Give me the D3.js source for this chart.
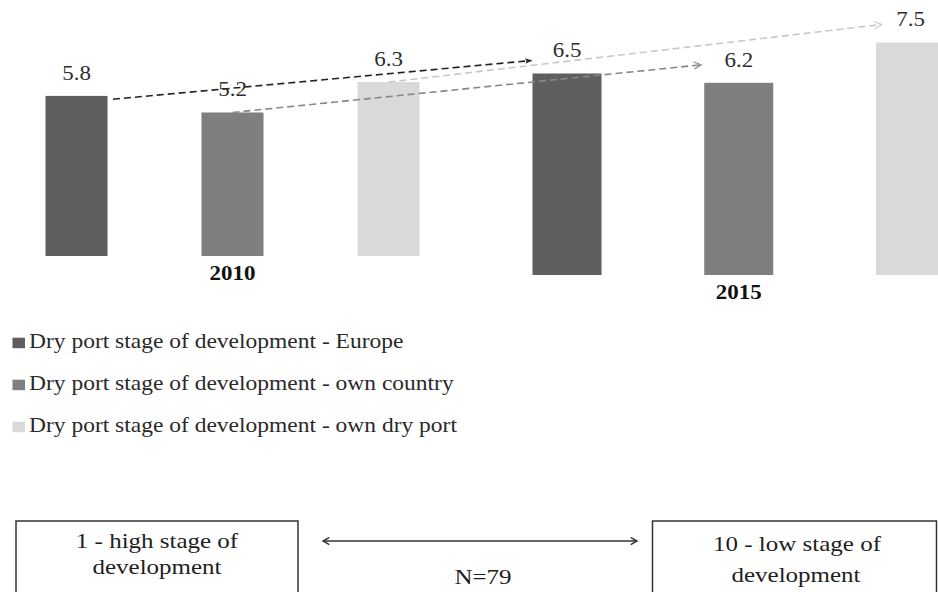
<!DOCTYPE html>
<html>
<head>
    <script src="https://d3js.org/d3.v7.min.js"></script>
    <style>
        body { margin: 0; background: #fff; }
        svg text { font-family: "Liberation Serif", "Times New Roman", serif; }
    </style>
</head>
<body>
    <div id="chart"></div>

    <script>
        // Data
        const years = ["2010", "2015"];
        const series = [
            "Dry port stage of development - Europe",
            "Dry port stage of development - own country",
            "Dry port stage of development - own dry port"
        ];
        const values2010 = [5.8, 5.2, 6.3];
        const values2015 = [6.5, 6.2, 7.5];
        const colors = ["#5f5f5f", "#7f7f7f", "#d9d9d9"];
        const trendColors = ["#222", "#888", "#c8c8c8"];
        const scaleText = ["1 - high stage of", "development"];
        const scaleTextRight = ["10 - low stage of", "development"];
        const sampleLabel = "N=79";

        const width = 938, height = 592;
        const squash = 0.88; // picture is a bit flattened vertically

        const svg = d3.select("#chart")
            .append("svg")
            .attr("width", width)
            .attr("height", height);

        const defs = svg.append("defs");
        // filled head for the Europe trend, open heads for the others
        defs.append("marker")
            .attr("id", "head0")
            .attr("viewBox", "0 0 10 10")
            .attr("refX", 9).attr("refY", 5)
            .attr("markerWidth", 7).attr("markerHeight", 7)
            .attr("markerUnits", "userSpaceOnUse")
            .attr("orient", "auto")
            .append("path")
            .attr("d", "M0,1 L10,5 L0,9 L2,5 Z")
            .attr("fill", trendColors[0]);
        [1, 2].forEach(i => {
            defs.append("marker")
                .attr("id", "head" + i)
                .attr("viewBox", "0 0 10 10")
                .attr("refX", 9).attr("refY", 5)
                .attr("markerWidth", 9).attr("markerHeight", 9)
                .attr("markerUnits", "userSpaceOnUse")
                .attr("orient", "auto")
                .append("path")
                .attr("d", "M1,1 L9,5 L1,9")
                .attr("fill", "none")
                .attr("stroke", trendColors[i])
                .attr("stroke-width", 1.3);
        });
        defs.append("marker")
            .attr("id", "tip")
            .attr("viewBox", "0 0 10 10")
            .attr("refX", 9).attr("refY", 5)
            .attr("markerWidth", 9).attr("markerHeight", 9)
            .attr("markerUnits", "userSpaceOnUse")
            .attr("orient", "auto-start-reverse")
            .append("path")
            .attr("d", "M2,1 L9,5 L2,9")
            .attr("fill", "none")
            .attr("stroke", "#333")
            .attr("stroke-width", 1.6);

        // helper: text squashed vertically like the source picture
        function label(g, x, y, txt, size, opts = {}) {
            return g.append("text")
                .attr("transform", `translate(${x},${y}) scale(1,${squash})`)
                .attr("text-anchor", opts.anchor || "middle")
                .attr("font-size", size)
                .attr("font-weight", opts.bold ? "bold" : "normal")
                .attr("fill", opts.fill || "#2e2e2e")
                .text(txt);
        }

        // Two panels, each with its own scale (as in the source)
        const panels = [
            { year: years[0], values: values2010, base: 256, unit: 27.6, centers: [76.5, 388.5], barW: 62 },
            { year: years[1], values: values2015, base: 275, unit: 31.0, centers: [567, 910.5], barW: 69 }
        ];
        panels.forEach(p => {
            p.y = d3.scaleLinear().domain([0, 8]).range([p.base, p.base - 8 * p.unit]);
            p.x = d3.scalePoint().domain(series).range(p.centers);
        });

        const chart = svg.append("g");
        const barLayer = chart.append("g");
        const lineLayer = chart.append("g");
        const textLayer = chart.append("g");

        panels.forEach(p => {
            barLayer.append("g").selectAll("rect")
                .data(p.values)
                .join("rect")
                .attr("x", (d, i) => p.x(series[i]) - p.barW / 2)
                .attr("y", d => p.y(d))
                .attr("width", p.barW)
                .attr("height", d => p.y(0) - p.y(d))
                .attr("fill", (d, i) => colors[i]);

            p.values.forEach((v, i) => {
                label(textLayer, p.x(series[i]), p.y(v) - 16.3, v.toFixed(1), 23);
            });

            label(textLayer, p.x(series[1]), p.y(0) + 23.5, p.year, 23, { bold: true, fill: "#111" });
        });

        // Dashed trend arrows 2010 -> 2015, drawn over the bars
        const a = panels[0], b = panels[1];
        const trendStart = [[36.5, 3.3], [0, 0], [0, 0]];   // offset from bar top centre
        const trendEnd = [[-35.5, -13], [-37.5, -18], [-29, -18]]; // offset from bar top centre
        series.slice().reverse().forEach((s, r) => {
            const i = series.length - 1 - r;
            const x1 = a.x(s) + trendStart[i][0], y1 = a.y(a.values[i]) + trendStart[i][1];
            const x2 = b.x(s) + trendEnd[i][0], y2 = b.y(b.values[i]) + trendEnd[i][1];
            lineLayer.append("line")
                .attr("x1", x1).attr("y1", y1)
                .attr("x2", x2).attr("y2", y2)
                .attr("stroke", trendColors[i])
                .attr("stroke-width", 1.6)
                .attr("stroke-dasharray", "7,4")
                .attr("marker-end", `url(#head${i})`);
        });

        // Legend
        const legend = svg.append("g");
        const legendBase = [347.5, 389.5, 431.5];
        series.forEach((s, i) => {
            legend.append("rect")
                .attr("x", 12.5).attr("y", legendBase[i] - 9.8)
                .attr("width", 12.5).attr("height", 10.5)
                .attr("fill", colors[i]);
            label(legend, 29, legendBase[i], s, 23.5, { anchor: "start", fill: "#2a2a2a" });
        });

        // Scale explanation boxes
        const foot = svg.append("g");
        foot.append("rect")
            .attr("x", 16).attr("y", 521).attr("width", 282).attr("height", 90)
            .attr("fill", "none").attr("stroke", "#333").attr("stroke-width", 1.5);
        foot.append("rect")
            .attr("x", 652.5).attr("y", 521).attr("width", 284).attr("height", 90)
            .attr("fill", "none").attr("stroke", "#333").attr("stroke-width", 1.5);
        label(foot, 157, 548.4, scaleText[0], 25, { fill: "#1e1e1e" });
        label(foot, 157, 574, scaleText[1], 25, { fill: "#1e1e1e" });
        label(foot, 797, 551, scaleTextRight[0], 25, { fill: "#1e1e1e" });
        label(foot, 796, 581.8, scaleTextRight[1], 25, { fill: "#1e1e1e" });

        foot.append("line")
            .attr("x1", 323).attr("y1", 541).attr("x2", 637).attr("y2", 541)
            .attr("stroke", "#333").attr("stroke-width", 1.6)
            .attr("marker-start", "url(#tip)")
            .attr("marker-end", "url(#tip)");
        label(foot, 483, 584, sampleLabel, 25, { fill: "#1e1e1e" });
    </script>
</body>
</html>
